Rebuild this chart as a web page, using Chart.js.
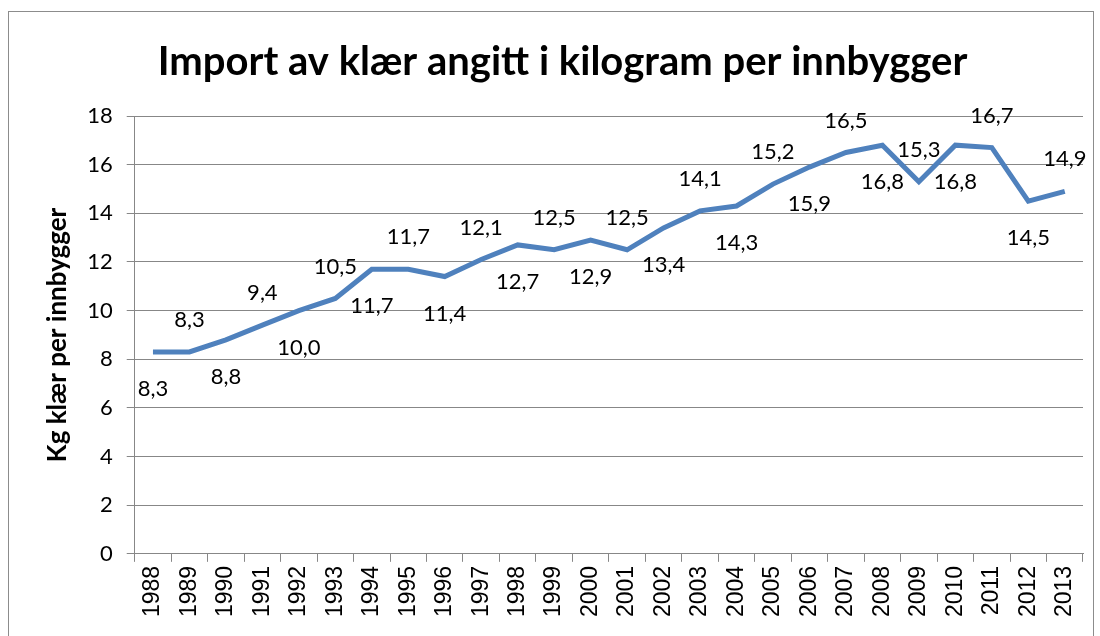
<!DOCTYPE html>
<html>
<head>
<meta charset="utf-8">
<script src="https://cdn.jsdelivr.net/npm/chart.js@4.4.1/dist/chart.umd.min.js"></script>
<style>
  body { margin: 0; background: #fff; }
  #wrap { width: 1100px; height: 636px; position: relative; }
</style>
</head>
<body>
<div id="wrap"><canvas id="importChart"></canvas></div>
<script>
const years = ['1988','1989','1990','1991','1992','1993','1994','1995','1996','1997','1998','1999','2000',
  '2001','2002','2003','2004','2005','2006','2007','2008','2009','2010','2011','2012','2013'];
const kgPerPerson = [8.3, 8.3, 8.8, 9.4, 10.0, 10.5, 11.7, 11.7, 11.4, 12.1, 12.7, 12.5, 12.9,
  12.5, 13.4, 14.1, 14.3, 15.2, 15.9, 16.5, 16.8, 15.3, 16.8, 16.7, 14.5, 14.9];
const yTicks = [0, 2, 4, 6, 8, 10, 12, 14, 16, 18];

const gridGrey = '#878787';
const calibriLike = 'Lato, "Open Sans", sans-serif';

// outer frame like the spreadsheet chart box
const frame = {
  id: 'frame',
  beforeDraw(chart) {
    const ctx = chart.ctx;
    ctx.save();
    ctx.strokeStyle = '#8c8c8c';
    ctx.lineWidth = 1;
    ctx.strokeRect(8.5, 11.5, 1085, 700);
    ctx.restore();
  }
};

// value labels, alternating below / above the line
const valueLabels = {
  id: 'valueLabels',
  afterDatasetsDraw(chart) {
    const ctx = chart.ctx;
    const meta = chart.getDatasetMeta(0);
    ctx.save();
    ctx.font = '22px ' + calibriLike;
    ctx.fillStyle = '#000';
    ctx.textAlign = 'center';
    ctx.textBaseline = 'middle';
    meta.data.forEach((pt, i) => {
      const v = chart.data.datasets[0].data[i];
      const dy = i % 2 === 0 ? 37 : -32;
      ctx.fillText(v.toFixed(1).replace('.', ','), pt.x, pt.y + dy);
    });
    ctx.restore();
  }
};

new Chart(document.getElementById('importChart'), {
  type: 'line',
  data: {
    labels: years,
    datasets: [{
      label: 'Kg klær per innbygger',
      data: kgPerPerson,
      borderColor: '#4f81bd',
      borderWidth: 5,
      pointRadius: 0,
      tension: 0,
      fill: false
    }]
  },
  options: {
    responsive: true,
    maintainAspectRatio: false,
    animation: false,
    layout: { padding: { left: 42, right: 17, top: 16, bottom: 15 } },
    plugins: {
      legend: { display: false },
      tooltip: { enabled: false },
      title: {
        display: true,
        text: 'Import av klær angitt i kilogram per innbygger',
        color: '#000',
        font: { family: calibriLike, size: 40, weight: 'bold' },
        padding: { top: 22, bottom: 30 }
      }
    },
    scales: {
      x: {
        offset: true,
        grid: { offset: true, drawOnChartArea: false, drawTicks: true, tickLength: 8, color: gridGrey },
        border: { color: gridGrey, width: 1 },
        ticks: {
          color: '#000',
          font: { family: '"Liberation Sans", Arial, sans-serif', size: 23 },
          minRotation: 90, maxRotation: 90, autoSkip: false, padding: 4
        }
      },
      y: {
        min: 0, max: 18,
        afterBuildTicks(axis) { axis.ticks = yTicks.map(v => ({ value: v })); },
        grid: { color: gridGrey, tickLength: 8 },
        border: { color: gridGrey, width: 1 },
        ticks: {
          color: '#000',
          font: { family: calibriLike, size: 22 },
          padding: 14
        },
        title: {
          display: true,
          text: 'Kg klær per innbygger',
          color: '#000',
          font: { family: calibriLike, size: 26, weight: 'bold' },
          padding: { top: 0, bottom: 0 }
        }
      }
    }
  },
  plugins: [frame, valueLabels]
});
</script>
</body>
</html>
